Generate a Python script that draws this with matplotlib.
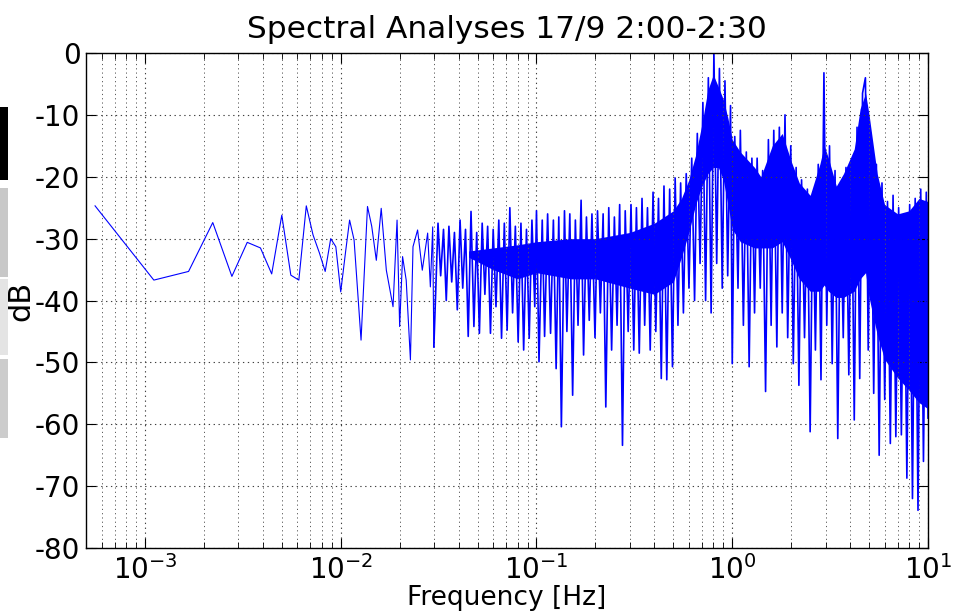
import numpy as np
import matplotlib
matplotlib.use('Agg')
import matplotlib.pyplot as plt
from matplotlib.patches import Rectangle
from matplotlib.ticker import LogLocator, NullFormatter

# low frequency part, one point per bin (30 min record -> df ~ 1/1800 Hz)
low_f = [0.000556, 0.00111, 0.00167, 0.00222, 0.00278, 0.00333, 0.00389, 0.00444,
         0.00500, 0.00556, 0.00611, 0.00667, 0.00722, 0.00778, 0.00833, 0.00889,
         0.00944, 0.0100, 0.0106, 0.0111, 0.0117, 0.0127, 0.0137, 0.0144, 0.0152,
         0.0161, 0.0171, 0.0185, 0.0194, 0.0200, 0.0207, 0.0216, 0.0227, 0.0234,
         0.0247, 0.0261, 0.0278, 0.0287, 0.0295, 0.0299]
low_db = [-24.7, -36.7, -35.3, -27.4, -36.1, -30.6, -31.5, -35.7,
          -26.2, -35.9, -36.7, -24.7, -29.4, -32.3, -35.3, -30.0,
          -31.3, -38.6, -32.0, -27.0, -30.2, -46.4, -24.8, -28.0, -33.5,
          -25.1, -35.1, -41.0, -27.0, -44.2, -32.9, -36.7, -49.6, -31.3,
          -28.6, -35.1, -29.1, -37.8, -28.1, -47.5]

# dense part: successive highs and lows of the trace
mid_f = [0.0314, 0.0324, 0.0335, 0.0346, 0.0357, 0.0369, 0.0381, 0.0394, 0.0407,
         0.0420, 0.0434, 0.0448, 0.0463, 0.0479, 0.0495, 0.0511, 0.0528, 0.0545,
         0.0563, 0.0582, 0.0601, 0.0621, 0.0642, 0.0663, 0.0685, 0.0708, 0.0731,
         0.0755, 0.0780, 0.0806, 0.0833, 0.0860, 0.0889, 0.0918, 0.0948, 0.0980]
mid_db = [-27.5, -36.0, -28.5, -40.0, -28.0, -37.0, -29.0, -41.5, -27.0,
          -38.0, -28.5, -45.8, -25.6, -44.2, -29.0, -45.3, -27.5, -39.0,
          -28.0, -45.3, -28.5, -41.0, -27.0, -46.1, -27.5, -44.8, -25.0,
          -42.0, -28.0, -46.7, -27.5, -48.0, -28.5, -46.1, -27.0, -41.0]

dec1_f = [0.100, 0.103, 0.107, 0.110, 0.114, 0.118, 0.122, 0.126, 0.130, 0.134,
          0.139, 0.143, 0.148, 0.153, 0.158, 0.163, 0.169, 0.174, 0.180, 0.186,
          0.192, 0.199, 0.205, 0.212, 0.219, 0.226, 0.234, 0.242, 0.250, 0.258,
          0.266, 0.275, 0.284, 0.294, 0.304, 0.314, 0.324, 0.335, 0.346, 0.357,
          0.369, 0.381, 0.394, 0.407, 0.420, 0.434, 0.448, 0.463, 0.479, 0.495,
          0.511, 0.528, 0.545, 0.563, 0.582, 0.601, 0.621, 0.642, 0.663, 0.685,
          0.708, 0.731, 0.755, 0.780, 0.806, 0.833, 0.860, 0.889, 0.918, 0.948,
          0.980]
dec1_db = [-25.5, -49.9, -27.0, -45.8, -26.0, -45.3, -27.0, -51.0, -26.5, -60.4,
           -25.5, -45.0, -26.0, -55.3, -27.0, -44.0, -23.8, -48.8, -26.5, -43.2,
           -26.0, -46.0, -25.5, -42.0, -26.0, -57.2, -25.0, -48.0, -26.5, -44.0,
           -24.5, -63.4, -25.5, -45.0, -24.5, -48.0, -25.0, -48.5, -23.5, -44.0,
           -25.0, -48.0, -22.5, -45.0, -23.5, -52.6, -21.5, -52.8, -22.0, -50.7,
           -20.2, -44.0, -21.0, -42.0, -19.5, -38.0, -17.0, -40.0, -13.0, -34.0,
           -8.0, -40.0, -4.0, -42.0, 0.0, -34.0, -2.5, -38.0, -4.5, -36.0,
           -8.5]

dec2_f = [1.00, 1.03, 1.07, 1.10, 1.14, 1.18, 1.22, 1.26, 1.30, 1.34,
          1.39, 1.43, 1.48, 1.53, 1.58, 1.63, 1.69, 1.74, 1.80, 1.86,
          1.92, 1.99, 2.05, 2.12, 2.19, 2.26, 2.34, 2.42, 2.50, 2.58,
          2.66, 2.75, 2.84, 2.94, 3.04, 3.14, 3.24, 3.35, 3.46, 3.57,
          3.69, 3.81, 3.94, 4.07, 4.20, 4.34, 4.48, 4.63, 4.79, 4.95,
          5.11, 5.28, 5.45, 5.63, 5.82, 6.01, 6.21, 6.42, 6.63, 6.85,
          7.08, 7.31, 7.55, 7.80, 8.06, 8.33, 8.60, 8.89, 9.18, 9.48,
          9.80, 10.0]
dec2_db = [-50.2, -13.5, -38.0, -12.5, -44.0, -16.0, -50.7, -17.0, -42.0, -17.0,
           -38.0, -19.0, -54.7, -14.0, -44.0, -12.5, -47.5, -12.0, -42.0, -10.0,
           -46.0, -15.0, -50.2, -18.5, -53.7, -20.5, -46.0, -22.0, -61.2, -22.5,
           -48.0, -18.0, -52.8, -3.2, -44.0, -15.0, -50.2, -19.0, -62.3, -22.5,
           -46.0, -18.5, -52.0, -17.5, -59.3, -12.0, -52.6, -6.5, -4.0, -48.0,
           -13.0, -55.0, -18.0, -65.0, -21.0, -56.0, -24.0, -63.1, -23.0, -62.0,
           -25.0, -61.7, -26.5, -68.7, -24.5, -72.0, -23.5, -73.9, -22.0, -66.0,
           -22.5, -59.0]

# solid core of the dense band
core_f = [0.045, 0.06, 0.08, 0.1, 0.15, 0.2, 0.3, 0.4, 0.5, 0.55, 0.6, 0.65, 0.7,
          0.75, 0.8, 0.85, 0.9, 0.95, 1.0, 1.1, 1.3, 1.4, 1.6, 1.8, 2.0, 2.2, 2.5,
          2.8, 2.95, 3.1, 3.4, 3.7, 4.2, 4.5, 4.8, 5.0, 5.5, 6.0, 7.0, 8.0, 9.0, 10.0]
core_hi = [-32, -31.5, -31, -30.5, -30, -30, -29, -27.5, -25.5, -23.5, -20.5, -16.5, -11.5,
           -6, -3.5, -5.5, -7.5, -10.5, -14, -16, -18.5, -20, -15, -13, -17.5, -21, -23,
           -18, -15, -17, -21.5, -19.5, -15.5, -9, -6.5, -10, -19.5, -24.5, -26, -25.5, -23.5, -24]
core_lo = [-33, -35, -36.5, -35.5, -36.5, -36.5, -38, -39, -37, -33, -29, -24.5, -21.5,
           -19.5, -18.5, -18.5, -20.5, -24.5, -28.5, -30.5, -31.5, -31.5, -31.5, -30.5, -33.5, -36.5, -38.5,
           -38.5, -37.5, -38.5, -39.5, -39.5, -38.5, -36.5, -35.5, -39.5, -45.5, -49.5, -52.5, -54.5, -56.5, -57.5]

plt.rcParams['font.family'] = 'DejaVu Sans'
plt.rcParams['axes.unicode_minus'] = False
plt.rcParams['mathtext.default'] = 'regular'

fig = plt.figure(figsize=(9.57, 6.15), dpi=100)
ax = fig.add_axes([0.0899, 0.1089, 0.8798, 0.8049])

dense_f = low_f[-1:] + mid_f + dec1_f + dec2_f
dense_db = low_db[-1:] + mid_db + dec1_db + dec2_db
ax.fill_between(core_f, core_lo, core_hi, color='#0000ff', lw=0)
ax.plot(low_f, low_db, color='#0000ff', lw=0.8)
ax.plot(dense_f, dense_db, color='#0000ff', lw=1.2)

ax.set_xscale('log')
ax.set_xlim(5e-4, 10)
ax.set_ylim(-80, 0)
ax.set_yticks(np.arange(-80, 1, 10))
ax.xaxis.set_major_locator(LogLocator(base=10, numticks=10))
ax.xaxis.set_minor_locator(LogLocator(base=10, subs=np.arange(2, 10), numticks=20))
ax.xaxis.set_minor_formatter(NullFormatter())

ax.tick_params(which='both', direction='in', top=True, right=True, labelsize=20)
ax.tick_params(which='major', length=7, width=0.8)
ax.tick_params(which='minor', length=4, width=0.6)
ax.tick_params(axis='y', pad=4)
ax.tick_params(axis='x', pad=5)

ax.grid(True, which='major', ls=(0, (1.2, 3.2)), color='0.25', lw=0.8)
ax.grid(True, which='minor', axis='x', ls=(0, (1.2, 3.2)), color='0.35', lw=0.7)
for s in ax.spines.values():
    s.set_linewidth(1.0)

ax.set_title('Spectral Analyses 17/9 2:00-2:30', fontsize=22.5, pad=11)
ax.set_xlabel('Frequency [Hz]', fontsize=19)
ax.set_ylabel('dB', fontsize=22)
ax.xaxis.set_label_coords(0.5, -0.074)
ax.yaxis.set_label_coords(-0.06, 0.5)

# side strips at the left edge of the screenshot
for y0, y1, c in [(107, 180, '#000000'), (188, 277, '#c8c8c8'),
                  (279, 355, '#e4e4e4'), (359, 438, '#cccccc')]:
    fig.add_artist(Rectangle((0, 1 - y1 / 615), 8 / 957, (y1 - y0) / 615,
                             transform=fig.transFigure, color=c, lw=0))

fig.savefig('out.png', dpi=100)
